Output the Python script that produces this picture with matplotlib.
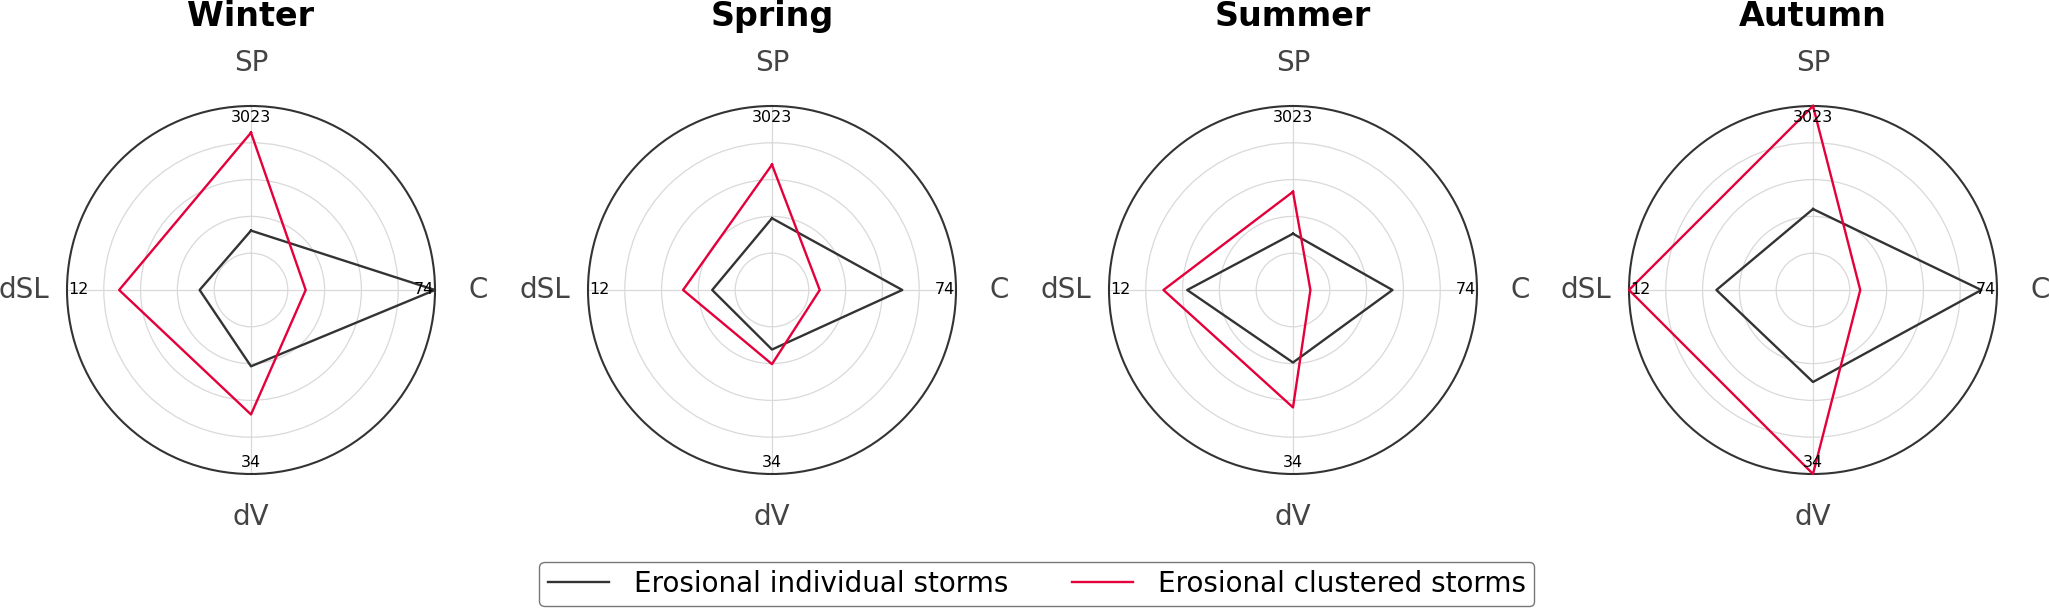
import numpy as np
import matplotlib
matplotlib.use('Agg')
import matplotlib.pyplot as plt

# radar chart of storm characteristics per season
seasons = ['Winter', 'Spring', 'Summer', 'Autumn']
variables = ['SP', 'C', 'dV', 'dSL']

# raw values per season, order: SP, C, dV, dSL
individual = {
    'Winter': [976, 74, 14.1, 3.35],
    'Spring': [1179, 52.4, 11.0, 3.9],
    'Summer': [925, 40.0, 13.4, 6.9],
    'Autumn': [1330, 67.7, 17.0, 6.3],
}
clustered = {
    'Winter': [2585, 22.0, 23.0, 8.6],
    'Spring': [2059, 19.2, 13.7, 5.8],
    'Summer': [1614, 7.0, 21.7, 8.45],
    'Autumn': [3023, 19.0, 34.0, 12.0],
}

col_ind = '#333333'
col_clu = '#e4003a'

all_vals = np.array([individual[s] for s in seasons] + [clustered[s] for s in seasons])
max_vals = all_vals.max(axis=0)

angles = np.arange(len(variables)) * 2 * np.pi / len(variables)

fig = plt.figure(figsize=(20.49, 6.11), dpi=100)

W, H = 2049., 611.
rad = 184
cy = 290
centers = [251, 772, 1293, 1813]

for i, season in enumerate(seasons):
    cx = centers[i]
    ax = fig.add_axes([(cx - rad) / W, (H - cy - rad) / H, 2 * rad / W, 2 * rad / H],
                      projection='polar')
    ax.set_theta_offset(np.pi / 2)
    ax.set_theta_direction(-1)

    for data, c, lab in [(individual, col_ind, 'Erosional individual storms'),
                         (clustered, col_clu, 'Erosional clustered storms')]:
        v = np.array(data[season]) / max_vals
        th = np.append(angles, angles[0])
        r = np.append(v, v[0])
        ax.plot(th, r, color=c, lw=1.7, label=lab, clip_on=False, zorder=5)

    ax.set_ylim(0, 1)
    ax.set_rgrids([0.2, 0.4, 0.6, 0.8], labels=[''] * 4)
    ax.set_thetagrids(np.degrees(angles), labels=[''] * 4)
    ax.grid(color='#d9d9d9', lw=0.9)
    ax.spines['polar'].set_color('#333333')
    ax.spines['polar'].set_linewidth(1.5)

    for a, name, mx in zip(angles, variables, max_vals):
        ax.text(a, 1.235, name, ha='center', va='center', fontsize=20,
                color='#444444', clip_on=False)
        ax.text(a, 0.94, '%d' % round(mx), ha='center', va='center',
                fontsize=11.5, color='black', zorder=6)

    fig.text(cx / W, 1 - 26 / H, season, ha='center',
             va='baseline', fontsize=24, fontweight='bold')

handles, labels = ax.get_legend_handles_labels()
fig.legend(handles, labels, loc='center', bbox_to_anchor=(0.506, 1 - 584 / H),
           ncol=2, fontsize=20, handlelength=2.2, handletextpad=0.9,
           columnspacing=2.3, frameon=True, edgecolor='#555555',
           fancybox=True, borderpad=0.3)

fig.savefig('out.png', dpi=100)
